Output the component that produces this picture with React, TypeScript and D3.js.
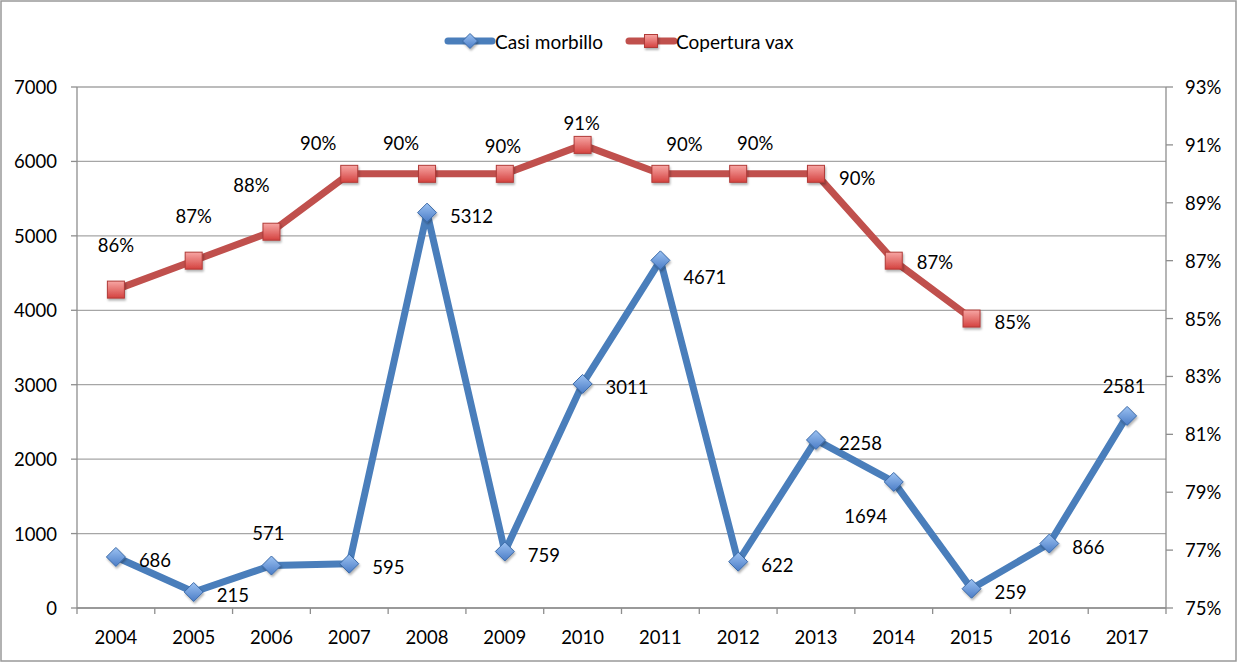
import React from "react";
import * as d3 from "d3";

const years = ["2004","2005","2006","2007","2008","2009","2010","2011","2012","2013","2014","2015","2016","2017"];
const casiMorbillo = [686, 215, 571, 595, 5312, 759, 3011, 4671, 622, 2258, 1694, 259, 866, 2581];
const coperturaVax = [86, 87, 88, 90, 90, 90, 91, 90, 90, 90, 87, 85];
const leftTicks = [0, 1000, 2000, 3000, 4000, 5000, 6000, 7000];
const rightTicks = [75, 77, 79, 81, 83, 85, 87, 89, 91, 93];
const seriesNames = ["Casi morbillo", "Copertura vax"];

// label placement (layout only)
type Lbl = { dx: number; dy: number; anchor: "start" | "middle" };
const R: Lbl = { dx: 23, dy: 3, anchor: "start" };
const blueLabelPos: Lbl[] = [
  R, R, { dx: -3, dy: -33, anchor: "middle" }, R, R, R, R,
  { dx: 23, dy: 17, anchor: "start" }, R, R,
  { dx: -28, dy: 34, anchor: "middle" }, R, R,
  { dx: -3, dy: -30, anchor: "middle" },
];
const redLabelPos: Lbl[] = [
  { dx: 0, dy: -45, anchor: "middle" },
  { dx: 0, dy: -45, anchor: "middle" },
  { dx: -20, dy: -47, anchor: "middle" },
  { dx: -31, dy: -31, anchor: "middle" },
  { dx: -26, dy: -31, anchor: "middle" },
  { dx: -2, dy: -28, anchor: "middle" },
  { dx: -1, dy: -22, anchor: "middle" },
  { dx: 24, dy: -30, anchor: "middle" },
  { dx: 17, dy: -31, anchor: "middle" },
  { dx: 23, dy: 4, anchor: "start" },
  { dx: 23, dy: 1, anchor: "start" },
  { dx: 23, dy: 3, anchor: "start" },
];

const W = 1238, H = 663;
const L = 77, Rt = 1166, T = 87, B = 608;
const FONT = "Lato, 'Noto Sans', sans-serif";
const FS = 18.5;
const BLUE = "#4a7ebb";
const RED = "#c0504d";
const GRID = "#a6a6a6";
const AXIS = "#8e8e8e";

function Diamond({ x, y, r }: { x: number; y: number; r: number }) {
  return (
    <path
      d={`M${x},${y - r}L${x + r},${y}L${x},${y + r}L${x - r},${y}Z`}
      fill="url(#gBlue)"
      stroke="#3b6aa8"
      strokeWidth={1}
      filter="url(#shadow)"
    />
  );
}
function Square({ x, y, s }: { x: number; y: number; s: number }) {
  return (
    <rect
      x={x - s / 2}
      y={y - s / 2}
      width={s}
      height={s}
      fill="url(#gRed)"
      stroke="#b03b38"
      strokeWidth={1}
      filter="url(#shadow)"
    />
  );
}

export default function App() {
  const x = d3.scaleBand<string>().domain(years).range([L, Rt]);
  const yL = d3.scaleLinear().domain([0, 7000]).range([B, T]);
  const yR = d3.scaleLinear().domain([75, 93]).range([B, T]);
  const cx = (yr: string) => (x(yr) as number) + x.bandwidth() / 2;

  const blueLine = d3
    .line<number>()
    .x((_, i) => cx(years[i]))
    .y((d) => yL(d));
  const redLine = d3
    .line<number>()
    .x((_, i) => cx(years[i]))
    .y((d) => yR(d));

  const boundaries = d3.range(years.length + 1).map((i) => L + i * x.step());

  return (
    <svg
      width={W}
      height={H}
      style={{ position: "absolute", left: 0, top: 0, background: "#fff" }}
      fontFamily={FONT}
    >
      <defs>
        <linearGradient id="gBlue" x1="0" y1="0" x2="0" y2="1">
          <stop offset="0" stopColor="#9cc2f2" />
          <stop offset="1" stopColor="#4a7cc6" />
        </linearGradient>
        <linearGradient id="gRed" x1="0" y1="0" x2="0" y2="1">
          <stop offset="0" stopColor="#f7a6a4" />
          <stop offset="1" stopColor="#d4423f" />
        </linearGradient>
        <filter id="shadow" x="-50%" y="-50%" width="200%" height="200%">
          <feDropShadow dx="1" dy="2" stdDeviation="1.2" floodColor="#000" floodOpacity="0.3" />
        </filter>
      </defs>
      <rect x={1} y={1} width={W - 3} height={H - 3} fill="#fff" stroke="#999" strokeWidth={1.5} />

      {/* gridlines */}
      {leftTicks.map((t) => (
        <line key={"g" + t} x1={L} x2={Rt} y1={yL(t)} y2={yL(t)} stroke={GRID} strokeWidth={1.3} />
      ))}

      {/* axes */}
      <line x1={L} x2={L} y1={T} y2={B} stroke={AXIS} strokeWidth={1.3} />
      <line x1={Rt} x2={Rt} y1={T} y2={B} stroke={AXIS} strokeWidth={1.3} />
      <line x1={L} x2={Rt} y1={B} y2={B} stroke={AXIS} strokeWidth={1.3} />

      {leftTicks.map((t) => (
        <g key={"l" + t}>
          <line x1={L - 6} x2={L} y1={yL(t)} y2={yL(t)} stroke={AXIS} strokeWidth={1.3} />
          <text x={57} y={yL(t)} textAnchor="end" dominantBaseline="central" fontSize={FS} fill="#000">
            {t}
          </text>
        </g>
      ))}
      {rightTicks.map((t) => (
        <g key={"r" + t}>
          <line x1={Rt} x2={Rt + 7} y1={yR(t)} y2={yR(t)} stroke={AXIS} strokeWidth={1.3} />
          <text x={1185} y={yR(t)} textAnchor="start" dominantBaseline="central" fontSize={FS} fill="#000">
            {t}%
          </text>
        </g>
      ))}
      {boundaries.map((bx, i) => (
        <line key={"b" + i} x1={bx} x2={bx} y1={B} y2={B + 6} stroke={AXIS} strokeWidth={1.3} />
      ))}
      {years.map((yr) => (
        <text key={"x" + yr} x={cx(yr)} y={637} textAnchor="middle" dominantBaseline="central" fontSize={FS} fill="#000">
          {yr}
        </text>
      ))}

      {/* series */}
      <path d={blueLine(casiMorbillo) || ""} fill="none" stroke={BLUE} strokeWidth={7} strokeLinejoin="round" strokeLinecap="round" />
      <path d={redLine(coperturaVax) || ""} fill="none" stroke={RED} strokeWidth={7} strokeLinejoin="round" strokeLinecap="round" />
      {casiMorbillo.map((v, i) => (
        <Diamond key={"d" + i} x={cx(years[i])} y={yL(v)} r={9.5} />
      ))}
      {coperturaVax.map((v, i) => (
        <Square key={"s" + i} x={cx(years[i])} y={yR(v)} s={17} />
      ))}

      {/* labels */}
      {casiMorbillo.map((v, i) => {
        const p = blueLabelPos[i];
        return (
          <text key={"bl" + i} x={cx(years[i]) + p.dx} y={yL(v) + p.dy} textAnchor={p.anchor} dominantBaseline="central" fontSize={FS} fill="#000">
            {v}
          </text>
        );
      })}
      {coperturaVax.map((v, i) => {
        const p = redLabelPos[i];
        return (
          <text key={"rl" + i} x={cx(years[i]) + p.dx} y={yR(v) + p.dy} textAnchor={p.anchor} dominantBaseline="central" fontSize={FS} fill="#000">
            {v}%
          </text>
        );
      })}

      {/* legend */}
      <g>
        <line x1={448} x2={492} y1={41} y2={41} stroke={BLUE} strokeWidth={7} strokeLinecap="round" />
        <Diamond x={470} y={41} r={7.5} />
        <text x={495} y={41} dominantBaseline="central" fontSize={19} fill="#000">{seriesNames[0]}</text>
        <line x1={629} x2={674} y1={41} y2={41} stroke={RED} strokeWidth={7} strokeLinecap="round" />
        <Square x={651} y={41} s={13} />
        <text x={676} y={41} dominantBaseline="central" fontSize={19} fill="#000">{seriesNames[1]}</text>
      </g>
    </svg>
  );
}
